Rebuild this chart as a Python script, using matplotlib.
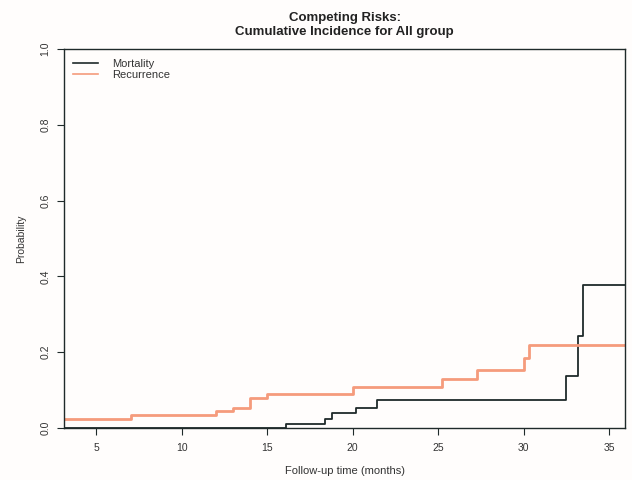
import matplotlib.pyplot as plt

# Cumulative incidence step data
mort_time = [0, 16.1, 18.4, 18.8, 20.2, 21.45, 32.5, 33.2, 33.45, 36]
mort_prob = [0, 0.010, 0.023, 0.039, 0.053, 0.074, 0.137, 0.243, 0.378, 0.378]
recur_time = [0, 7.05, 12.0, 13.0, 14.0, 15.0, 20.0, 25.2, 27.3, 30.0, 30.3, 36]
recur_prob = [0.025, 0.035, 0.044, 0.054, 0.078, 0.090, 0.107, 0.128, 0.153, 0.186, 0.220, 0.220]

x_ticks = [5, 10, 15, 20, 25, 30, 35]
y_ticks = [0.0, 0.2, 0.4, 0.6, 0.8, 1.0]

plt.rcParams['font.family'] = ['Liberation Sans', 'DejaVu Sans']

fig = plt.figure(figsize=(6.32, 4.8), dpi=100, facecolor='#fffdfc')
ax = fig.add_axes([0.1013, 0.1083, 0.8877, 0.7897])
ax.set_facecolor('#fffdfc')

ax.step(mort_time, mort_prob, where='post', color='#1f2a2a', lw=1.3, label='Mortality')
ax.step(recur_time, recur_prob, where='post', color='#f59b7c', lw=2.0, label='Recurrence')

ax.set_xlim(3.13, 35.93)
ax.set_ylim(0, 1)
ax.set_xticks(x_ticks)
ax.set_yticks(y_ticks)
ax.set_yticklabels([f"{v:.1f}" for v in y_ticks], rotation=90, va='center')
ax.tick_params(axis='both', direction='out', length=5, width=0.8, labelsize=7.5,
               colors='#1f2a2a', labelcolor='#333333')
ax.tick_params(axis='x', pad=6)
ax.tick_params(axis='y', pad=5)
for s in ax.spines.values():
    s.set_color('#1f2a2a')
    s.set_linewidth(1.0)

ax.set_title("Competing Risks:\nCumulative Incidence for All group",
             fontsize=9.5, fontweight='bold', color='#222222', pad=10, linespacing=1.25)
ax.set_xlabel("Follow-up time (months)", fontsize=8, color='#333333', labelpad=9)
ax.set_ylabel("Probability", fontsize=7.5, color='#333333', labelpad=10)

leg = ax.legend(loc='upper left', frameon=False, fontsize=8, handlelength=2.3,
                handletextpad=1.2, labelspacing=0.1, borderaxespad=0.4,
                bbox_to_anchor=(0.0, 0.998))
for t in leg.get_texts():
    t.set_color('#333333')
for h in leg.get_lines():
    h.set_linewidth(1.2)

fig.savefig('out.png', dpi=100, facecolor=fig.get_facecolor())
